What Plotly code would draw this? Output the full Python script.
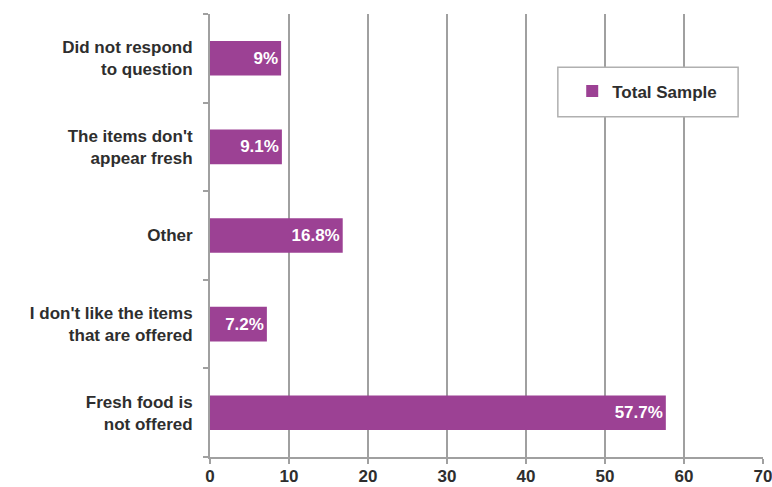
import plotly.graph_objects as go

# Reasons for not buying fresh food (percent of total sample)
categories = [
    "Fresh food is<br>not offered",
    "I don't like the items<br>that are offered",
    "Other",
    "The items don't<br>appear fresh",
    "Did not respond<br>to question",
]
values = [57.7, 7.2, 16.8, 9.1, 9]
series_name = "Total Sample"
x_ticks = [0, 10, 20, 30, 40, 50, 60, 70]

bar_color = "#9C4194"
grid_color = "#A0A0A0"
text_color = "#2E2E2E"
font_family = "Liberation Sans, Arial, sans-serif"

labels = [f"{v:g}%" for v in values]

fig = go.Figure()
fig.add_trace(go.Bar(
    x=values,
    y=categories,
    orientation="h",
    name=series_name,
    marker=dict(color=bar_color, line=dict(width=0)),
    text=labels,
    textposition="inside",
    insidetextanchor="end",
    textangle=0,
    textfont=dict(family=font_family, size=17, color="white", weight="bold"),
    cliponaxis=False,
    showlegend=True,
))

fig.update_layout(
    width=772,
    height=487,
    margin=dict(l=210, r=9, t=14, b=30),
    paper_bgcolor="white",
    plot_bgcolor="white",
    bargap=0.61,
    font=dict(family=font_family, color=text_color),
    xaxis=dict(
        range=[0, 70],
        tickvals=x_ticks,
        ticktext=[str(t) for t in x_ticks],
        automargin=False,
        ticklabeloverflow="allow",
        showgrid=True,
        gridcolor=grid_color,
        gridwidth=2,
        zeroline=False,
        showline=True,
        linecolor=grid_color,
        linewidth=2,
        ticks="outside",
        ticklen=5,
        tickwidth=1.5,
        tickcolor=grid_color,
        ticklabelstandoff=-2,
        tickfont=dict(family=font_family, size=17, color=text_color, weight="bold"),
    ),
    yaxis=dict(
        automargin=False,
        showgrid=False,
        showline=True,
        linecolor=grid_color,
        linewidth=2,
        ticks="outside",
        tickson="boundaries",
        ticklen=5,
        tickwidth=1.5,
        tickcolor=grid_color,
        ticklabelstandoff=12,
        tickfont=dict(family=font_family, size=17, color=text_color, weight="bold"),
    ),
    legend=dict(
        x=0.655,
        y=0.825,
        xanchor="left",
        yanchor="middle",
        bgcolor="rgba(0,0,0,0)",
        borderwidth=0,
        itemwidth=30,
        font=dict(family=font_family, size=17, color=text_color, weight="bold"),
    ),
    shapes=[dict(
        type="rect",
        xref="paper", yref="paper",
        x0=0.629, x1=0.955, y0=0.768, y1=0.88,
        fillcolor="white",
        line=dict(color="#B0B0B0", width=1.5),
        layer="above",
    )],
)

fig.write_html("out.html")
